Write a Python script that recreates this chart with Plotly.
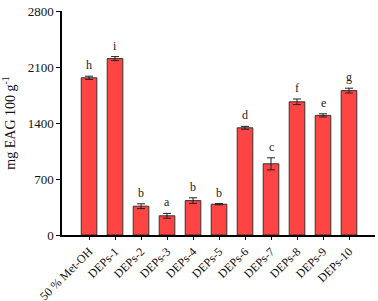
import plotly.graph_objects as go

categories = ["50 % Met-OH", "DEPs-1", "DEPs-2", "DEPs-3", "DEPs-4", "DEPs-5",
              "DEPs-6", "DEPs-7", "DEPs-8", "DEPs-9", "DEPs-10"]
values = [1965, 2205, 360, 240, 430, 385, 1340, 890, 1665, 1495, 1805]
errors = [20, 25, 30, 30, 35, 8, 18, 75, 35, 20, 30]
letters = ["h", "i", "b", "a", "b", "b", "d", "c", "f", "e", "g"]
y_ticks = [0, 700, 1400, 2100, 2800]

font_family = "Liberation Serif"

fig = go.Figure()
fig.add_trace(go.Bar(
    x=categories, y=values,
    marker=dict(color="#FF4444", line=dict(color="#333333", width=1)),
    width=0.6,
    error_y=dict(type="data", array=errors, visible=True,
                 color="#222222", thickness=1, width=4),
))

for c, v, e, l in zip(categories, values, errors, letters):
    fig.add_annotation(x=c, y=v + e, text=l, showarrow=False,
                       yanchor="bottom", yshift=2,
                       font=dict(family=font_family, size=12, color="#222222"))

fig.update_layout(
    width=378, height=301,
    margin=dict(l=62, r=3, t=11, b=66),
    plot_bgcolor="white", paper_bgcolor="white",
    showlegend=False,
    font=dict(family=font_family, size=13, color="#111111"),
    bargap=0.4,
)
fig.update_xaxes(
    range=[-1.04, 11], showline=True, linecolor="black", linewidth=1.5,
    ticks="outside", ticklen=3, tickcolor="black", tickangle=-45,
    tickfont=dict(family=font_family, size=12), showgrid=False, automargin=False,
    ticklabeloverflow="allow",
)
fig.update_yaxes(
    range=[0, 2800], tickvals=y_ticks, showline=True, linecolor="black", linewidth=1.5,
    ticks="outside", ticklen=4, tickcolor="black", showgrid=False, zeroline=False,
    tickfont=dict(family=font_family, size=13), automargin=False,
    ticklabeloverflow="allow",
    title=dict(text="mg EAG 100 g<sup>-1</sup>", font=dict(family=font_family, size=14), standoff=10),
)

# remove the page's default 8px body margin so the figure fills the window
fig.write_html("out.html", config={"displayModeBar": False},
               post_script="document.body.style.margin='0';document.body.style.overflow='hidden';")
